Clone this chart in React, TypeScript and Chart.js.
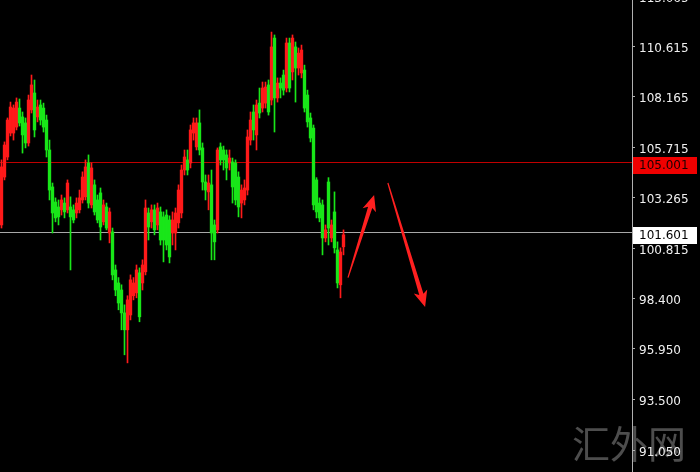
import React, { useEffect, useRef } from "react";
import { Chart, registerables } from "chart.js";

Chart.register(...registerables);

// OHLC candles (price units)
const OPEN = [101.95,104.27,105.24,106.40,106.40,106.69,107.61,107.18,106.89,105.92,107.52,108.34,107.18,107.76,107.61,107.03,105.58,103.79,103.06,102.82,102.68,103.01,102.68,102.82,102.68,102.53,102.68,103.16,103.31,104.95,102.92,103.89,103.16,103.50,102.10,102.82,101.56,101.61,99.77,99.14,98.80,97.69,96.87,97.59,98.52,98.66,99.63,99.14,99.68,102.53,102.10,102.68,101.95,102.58,102.34,102.43,102.19,101.56,101.56,102.05,102.53,104.61,105.10,104.95,106.40,105.73,106.89,105.68,104.03,103.55,103.89,101.95,101.71,105.73,105.58,105.34,104.95,105.00,104.95,104.27,103.01,103.16,103.64,106.06,107.42,106.31,107.85,107.61,107.85,108.73,108.00,111.00,108.10,108.82,109.21,108.58,110.76,109.36,110.57,109.55,109.31,109.45,108.24,107.13,106.64,104.13,103.01,102.92,101.32,104.03,101.32,102.58,100.74,99.05,100.89];
const HIGH = [105.10,105.97,107.13,107.90,107.76,108.10,108.05,107.42,107.13,108.24,109.21,108.97,108.00,108.00,107.85,107.27,106.06,103.98,103.26,103.16,103.40,103.26,104.13,103.31,102.92,103.26,103.64,104.52,105.10,105.34,104.95,104.13,103.40,103.74,103.16,103.01,102.77,101.80,100.01,99.40,99.05,98.08,98.52,99.53,99.40,100.01,99.87,100.26,103.16,102.77,102.92,102.92,103.01,102.82,102.58,102.68,102.39,102.58,102.77,103.89,104.85,105.58,105.58,106.79,107.13,107.13,107.52,105.92,104.37,104.37,104.61,102.19,105.68,105.92,105.77,105.58,105.58,105.19,105.10,104.52,103.89,104.13,106.55,107.42,107.76,108.00,108.58,108.87,108.87,108.97,111.29,111.15,109.07,109.07,109.45,111.00,111.00,111.15,110.81,110.52,110.66,109.69,108.48,107.37,106.79,104.24,103.26,103.16,101.95,104.24,102.19,103.55,101.13,100.84,101.71];
const LOW = [101.80,104.13,105.10,106.26,106.06,106.55,106.74,105.43,105.68,105.77,107.37,106.21,106.94,106.79,106.45,105.24,103.16,101.56,102.10,101.95,102.43,102.29,102.53,99.77,102.05,102.29,102.53,103.01,103.16,102.77,102.77,102.43,102.05,101.22,101.95,101.71,101.08,99.29,98.52,97.84,96.87,95.66,95.27,97.35,98.32,98.42,97.26,98.80,99.53,101.22,101.80,101.47,101.71,100.98,100.16,100.74,100.11,100.98,100.74,101.80,102.29,104.37,104.37,104.71,106.06,105.58,105.34,103.64,103.16,102.68,100.26,100.26,101.56,104.85,104.61,104.13,104.61,103.01,102.92,102.34,102.29,102.92,103.40,105.82,106.06,105.58,107.13,107.42,107.61,107.27,107.76,106.45,107.90,108.10,108.24,108.39,108.39,108.97,107.90,109.21,109.07,107.42,106.69,105.97,102.68,102.29,102.10,100.50,101.13,100.98,101.13,100.59,98.90,98.42,100.50];
const CLOSE = [104.76,105.82,107.03,107.66,107.61,107.90,106.89,106.31,105.92,108.00,108.73,106.55,107.66,107.03,106.69,105.58,103.64,102.53,102.29,102.34,103.16,102.58,103.98,102.34,102.19,103.01,103.26,104.27,104.76,103.01,104.71,102.58,102.19,101.85,102.92,101.80,102.58,99.53,98.80,98.17,97.69,96.87,98.32,99.29,99.14,99.77,97.50,100.01,102.77,101.85,102.68,101.71,102.77,101.22,101.22,100.98,100.40,102.19,102.53,103.64,104.61,105.24,104.61,106.55,106.89,106.89,105.58,104.03,103.64,103.98,101.56,101.13,105.58,105.10,105.10,104.71,105.19,103.79,103.16,102.82,103.64,103.74,106.21,107.03,106.55,107.76,107.37,108.58,108.63,107.42,110.57,108.10,108.82,108.58,108.48,110.76,108.58,111.00,109.55,110.27,110.42,107.61,106.94,106.16,102.92,102.58,102.29,101.32,101.71,101.80,101.95,100.84,99.14,100.64,101.47];

// price axis
const Y_TICKS = [110.615, 108.165, 105.715, 103.265, 100.815, 98.4, 95.95, 93.5, 91.05];
const Y_TICK_LABELS = ["110.615", "108.165", "105.715", "103.265", "100.815", "98.400", "95.950", "93.500", "91.050"];
const Y_TOP_TICK = 113.065;
const Y_TOP_TICK_LABEL = "113.065";
const Y_MIN = 89.985;
const Y_MAX = 112.843;
const X_SLOTS = 210.67;

// horizontal price levels
const RED_LEVEL = 105.001;
const RED_LEVEL_LABEL = "105.001";
const GRAY_LEVEL = 101.601;
const GRAY_LEVEL_LABEL = "101.601";

// hand-drawn arrows: [slot index, price] tail -> tip
const ARROW_UP = [[115.5, 99.4], [124.2, 103.4]];
const ARROW_DOWN = [[128.8, 103.98], [141.2, 97.98]];

const WATERMARK = "汇外网";

const UP_COLOR = "#ff1a1a";
const DOWN_COLOR = "#19e619";
const FONT = "'DejaVu Sans', sans-serif";

export default function App() {
  const ref = useRef<HTMLCanvasElement | null>(null);

  useEffect(() => {
    const canvas = ref.current;
    if (!canvas) return;

    const colorFor = (i: number) => (CLOSE[i] >= OPEN[i] ? UP_COLOR : DOWN_COLOR);

    const overlay = {
      id: "overlay",
      beforeDraw(chart: any) {
        const ctx = chart.ctx;
        ctx.save();
        ctx.fillStyle = "#000";
        ctx.fillRect(0, 0, chart.width, chart.height);
        ctx.font = "38px 'Noto Sans CJK SC', sans-serif";
        ctx.fillStyle = "rgba(140,140,140,0.55)";
        ctx.textBaseline = "alphabetic";
        ctx.textAlign = "left";
        ctx.fillText(WATERMARK, 572, 458);
        ctx.restore();
      },
      beforeDatasetsDraw(chart: any) {
        const ctx = chart.ctx;
        const y = chart.scales.y;
        const area = chart.chartArea;
        ctx.save();
        ctx.lineWidth = 1;
        const yr = Math.round(y.getPixelForValue(RED_LEVEL)) + 0.5;
        ctx.strokeStyle = "#c00000";
        ctx.beginPath();
        ctx.moveTo(area.left, yr);
        ctx.lineTo(area.right, yr);
        ctx.stroke();
        const yg = Math.round(y.getPixelForValue(GRAY_LEVEL)) + 0.5;
        ctx.strokeStyle = "#a8a8a8";
        ctx.beginPath();
        ctx.moveTo(area.left, yg);
        ctx.lineTo(area.right, yg);
        ctx.stroke();
        ctx.restore();
      },
      afterDraw(chart: any) {
        const ctx = chart.ctx;
        const xs = chart.scales.x;
        const ys = chart.scales.y;
        ctx.save();
        const drawArrow = (pts: number[][]) => {
          const tx = xs.getPixelForValue(pts[0][0]);
          const ty = ys.getPixelForValue(pts[0][1]);
          const hx = xs.getPixelForValue(pts[1][0]);
          const hy = ys.getPixelForValue(pts[1][1]);
          const len = Math.hypot(hx - tx, hy - ty);
          const dx = (hx - tx) / len, dy = (hy - ty) / len;
          const nx = -dy, ny = dx;
          const headLen = 16, headW = 7, shaftW = 2.2, tailW = 0.6;
          const bx = hx - dx * headLen, by = hy - dy * headLen;
          const nbx = hx - dx * (headLen - 3), nby = hy - dy * (headLen - 3);
          ctx.fillStyle = "#ff2020";
          ctx.beginPath();
          ctx.moveTo(tx + nx * tailW, ty + ny * tailW);
          ctx.lineTo(nbx + nx * shaftW, nby + ny * shaftW);
          ctx.lineTo(bx + nx * headW, by + ny * headW);
          ctx.lineTo(hx, hy);
          ctx.lineTo(bx - nx * headW, by - ny * headW);
          ctx.lineTo(nbx - nx * shaftW, nby - ny * shaftW);
          ctx.lineTo(tx - nx * tailW, ty - ny * tailW);
          ctx.closePath();
          ctx.fill();
        };
        drawArrow(ARROW_UP);
        drawArrow(ARROW_DOWN);

        const left = chart.chartArea.right + 1;
        ctx.font = "12px " + FONT;
        ctx.textAlign = "left";
        ctx.textBaseline = "middle";

        // partially visible top tick above the plot
        const yt = ys.getPixelForValue(Y_TOP_TICK);
        ctx.fillStyle = "#f0f0f0";
        ctx.fillText(Y_TOP_TICK_LABEL, left + 6, yt + 3);

        const box = (value: number, label: string, bg: string, fg: string) => {
          const yy = Math.round(ys.getPixelForValue(value));
          ctx.fillStyle = bg;
          ctx.fillRect(left, yy - 5, 64, 17);
          ctx.fillStyle = fg;
          ctx.fillText(label, left + 6, yy + 4);
        };
        box(RED_LEVEL, RED_LEVEL_LABEL, "#f00000", "#1a0000");
        box(GRAY_LEVEL, GRAY_LEVEL_LABEL, "#ffffff", "#000000");
        ctx.restore();
      },
    };

    const chart = new Chart(canvas, {
      type: "bar",
      data: {
        datasets: [
          {
            label: "wick",
            data: OPEN.map((_, i) => ({ x: i, y: [LOW[i], HIGH[i]] })) as any,
            backgroundColor: (c: any) => colorFor(c.dataIndex),
            barThickness: 1,
            grouped: false,
            borderWidth: 0,
          } as any,
          {
            label: "body",
            data: OPEN.map((o, i) => ({ x: i, y: [Math.min(o, CLOSE[i]), Math.max(o, CLOSE[i])] })) as any,
            backgroundColor: (c: any) => colorFor(c.dataIndex),
            barThickness: 2.7,
            grouped: false,
            borderWidth: 0,
            minBarLength: 1,
          } as any,
        ],
      },
      options: {
        animation: false,
        responsive: false,
        maintainAspectRatio: false,
        layout: { padding: 0, autoPadding: false },
        plugins: { legend: { display: false }, tooltip: { enabled: false }, title: { display: false } },
        scales: {
          x: {
            type: "linear",
            display: false,
            min: -0.5,
            max: X_SLOTS - 0.5,
            offset: false,
          },
          y: {
            position: "right",
            min: Y_MIN,
            max: Y_MAX,
            grid: { drawOnChartArea: false, drawTicks: true, tickLength: 3, color: "#b0b0b0" },
            border: { display: true, color: "#b0b0b0", width: 1 },
            afterBuildTicks: (scale: any) => {
              scale.ticks = Y_TICKS.map((v) => ({ value: v }));
            },
            afterFit: (scale: any) => {
              scale.width = 68;
              scale.paddingTop = 0;
              scale.paddingBottom = 0;
            },
            ticks: {
              autoSkip: false,
              color: "#f0f0f0",
              padding: 4,
              labelOffset: 2.5,
              font: { family: FONT, size: 12 },
              callback: (v: any) => {
                const idx = Y_TICKS.indexOf(Number(v));
                return idx >= 0 ? Y_TICK_LABELS[idx] : "";
              },
            },
          },
        },
      },
      plugins: [overlay],
    });

    return () => chart.destroy();
  }, []);

  return (
    <div style={{ position: "fixed", left: 0, top: 0, width: 700, height: 472, background: "#000" }}>
      <canvas ref={ref} width={700} height={472} style={{ display: "block" }} />
    </div>
  );
}
